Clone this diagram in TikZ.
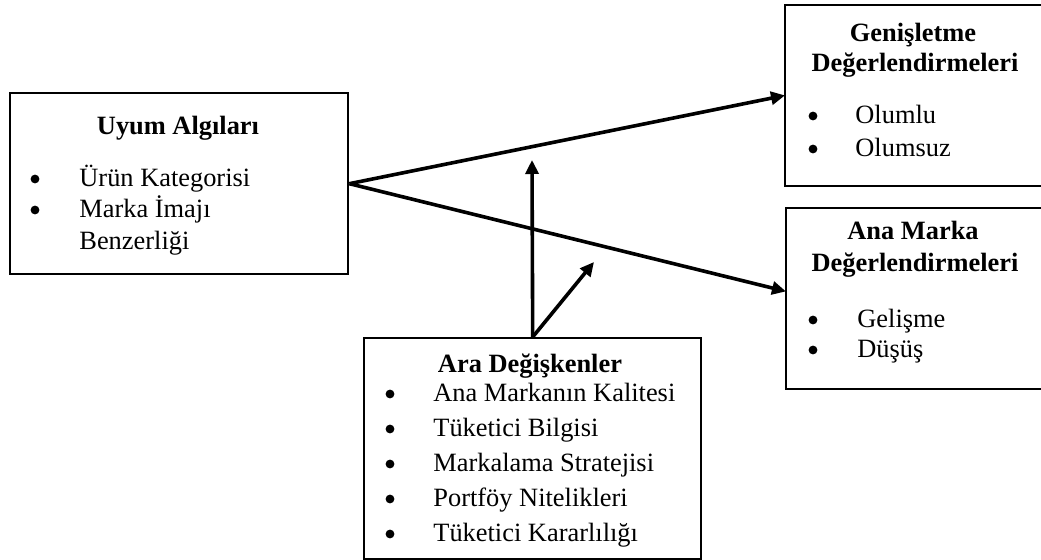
\documentclass[tikz,border=0pt]{standalone}
\usepackage{fontspec}
\setmainfont{Liberation Serif}
\usetikzlibrary{arrows.meta}
\tikzset{
    box/.style = {
        draw,
        line width=1.2pt,
        anchor=north west,
        inner sep=0pt,
        },
    open box/.style = {
        anchor=north west,
        inner sep=0pt,
        },
    frame/.style = {
        line width=1.2pt,
        },
    head/.style = {
        anchor=base,
        inner sep=0pt,
        font=\fontsize{13.2}{15}\selectfont\bfseries,
        },
    item/.style = {
        anchor=base west,
        inner sep=0pt,
        font=\fontsize{13.2}{15}\selectfont,
        },
    dot/.style = {
        circle,
        fill,
        inner sep=0pt,
        minimum size=4.4pt,
        },
    link/.style = {
        line width=1.8pt,
        -{Triangle[length=7pt, width=6.5pt]},
        }
}
\begin{document}
\begin{tikzpicture}[x=0.5pt, y=-0.5pt]
    \useasboundingbox (0,0) rectangle (1041,560);

    % boxes
    \node[box, minimum width=169pt, minimum height=90.5pt] (uyum) at (9,92) {};
    \node[open box, minimum width=128pt, minimum height=90pt] (genis) at (785,5) {};
    \node[open box, minimum width=127.5pt, minimum height=90pt] (anamarka) at (786,208) {};
    \node[box, minimum width=168.5pt, minimum height=110.5pt] (ara) at (363,337) {};
    % right side of these two is cut off
    \draw[frame] (genis.north east) -- (genis.north west) -- (genis.south west) -- (genis.south east);
    \draw[frame] (anamarka.north east) -- (anamarka.north west) -- (anamarka.south west) -- (anamarka.south east);

    % Uyum Algilari
    \node[head] (uyum-title) at (178,135) {Uyum Algıları};
    \node[dot] (uyum-dot-1) at (35,179) {};
    \node[item] (uyum-1) at (79,187) {Ürün Kategorisi};
    \node[dot] (uyum-dot-2) at (35,210) {};
    \node[item] (uyum-2) at (79,218) {Marka İmajı};
    \node[item] (uyum-3) at (79,250) {Benzerliği};

    % Genisletme
    \node[head] (genis-title-1) at (913,42) {Genişletme};
    \node[head] (genis-title-2) at (915,72) {Değerlendirmeleri};
    \node[dot] (genis-dot-1) at (813,116) {};
    \node[item] (genis-1) at (855,124) {Olumlu};
    \node[dot] (genis-dot-2) at (813,149) {};
    \node[item] (genis-2) at (855,157) {Olumsuz};

    % Ana Marka
    \node[head] (anamarka-title-1) at (913,240) {Ana Marka};
    \node[head] (anamarka-title-2) at (915,272) {Değerlendirmeleri};
    \node[dot] (anamarka-dot-1) at (813,320) {};
    \node[item] (anamarka-1) at (857,328) {Gelişme};
    \node[dot] (anamarka-dot-2) at (813,350) {};
    \node[item] (anamarka-2) at (857,358) {Düşüş};

    % Ara Degiskenler
    \node[head] (ara-title) at (530,373) {Ara Değişkenler};
    \foreach \txt [count=\i] in {Ana Markanın Kalitesi, Tüketici Bilgisi,
        Markalama Stratejisi, Portföy Nitelikleri, Tüketici Kararlılığı} {
        \node[dot] (ara-dot-\i) at (390,359+35*\i) {};
        \node[item] (ara-\i) at (433,367+35*\i) {\txt};
    }

    % arrows
    \coordinate (up) at (532,160);
    \coordinate (diag) at (594,262);
    \draw[link] (uyum.east) -- (genis.west);
    \draw[link] (uyum.east) -- ([yshift=3.5pt]anamarka.west);
    \draw[link] (ara.north) -- (up);
    \draw[link] (ara.north) -- (diag);
\end{tikzpicture}
\end{document}
